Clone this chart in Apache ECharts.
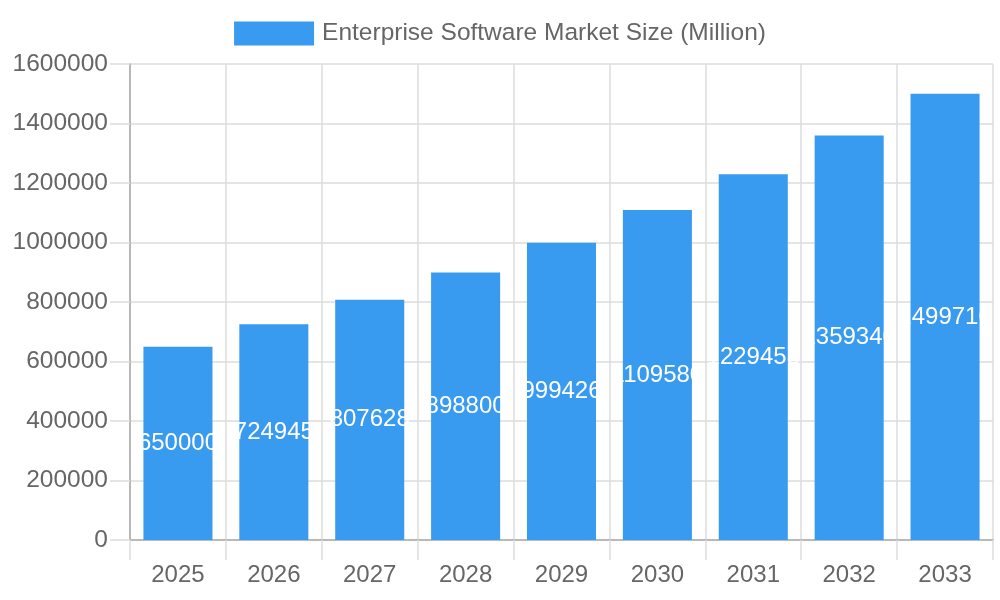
<!DOCTYPE html>
<html><head><meta charset="utf-8">
<script src="https://cdn.jsdelivr.net/npm/echarts@6/dist/echarts.min.js"></script>
<style>html,body{margin:0;padding:0;background:#fff}#c{width:1000px;height:600px}</style>
</head><body><div id="c"></div>
<script>
const years = ['2025','2026','2027','2028','2029','2030','2031','2032','2033'];
const marketSize = [650000, 724945, 807628, 898800, 999426, 1109580, 1229453, 1359340, 1499710];
const seriesName = 'Enterprise Software Market Size (Million)';
const yTicks = { min: 0, max: 1600000, interval: 200000 };

const chart = echarts.init(document.getElementById('c'));
chart.setOption({
  animation: false,
  textStyle: { fontFamily: 'Liberation Sans, Arial, sans-serif' },
  legend: {
    data: [seriesName], top: 16, left: 'center',
    itemWidth: 80, itemHeight: 24, itemGap: 12,
    textStyle: { fontSize: 24.5, color: '#666', padding: [0, 0, 0, 3] },
    icon: 'rect'
  },
  grid: { left: 130, right: 7, top: 64, bottom: 60, containLabel: false },
  xAxis: {
    type: 'category', data: years, boundaryGap: true,
    axisLine: { lineStyle: { color: '#aaa', width: 1.5 } },
    axisTick: { show: true, length: 20, lineStyle: { color: '#ddd', width: 1.5 } },
    axisLabel: { fontSize: 24, color: '#666', margin: 23 },
    splitLine: { show: true, lineStyle: { color: '#ddd', width: 1.5 } }
  },
  yAxis: {
    type: 'value', min: yTicks.min, max: yTicks.max, interval: yTicks.interval,
    axisLine: { show: true, lineStyle: { color: '#aaa', width: 1.5 } },
    axisTick: { show: true, length: 20, lineStyle: { color: '#ddd', width: 1.5 } },
    axisLabel: { fontSize: 24.5, color: '#666', margin: 22, formatter: v => String(v) },
    splitLine: { show: true, lineStyle: { color: '#ddd', width: 1.5 } }
  },
  series: [{
    name: seriesName, type: 'bar', data: marketSize,
    barCategoryGap: '28%',
    itemStyle: { color: '#399bf0' },
    label: { show: true, position: 'inside', color: '#fff', fontSize: 24 }
  }]
});
</script></body></html>
